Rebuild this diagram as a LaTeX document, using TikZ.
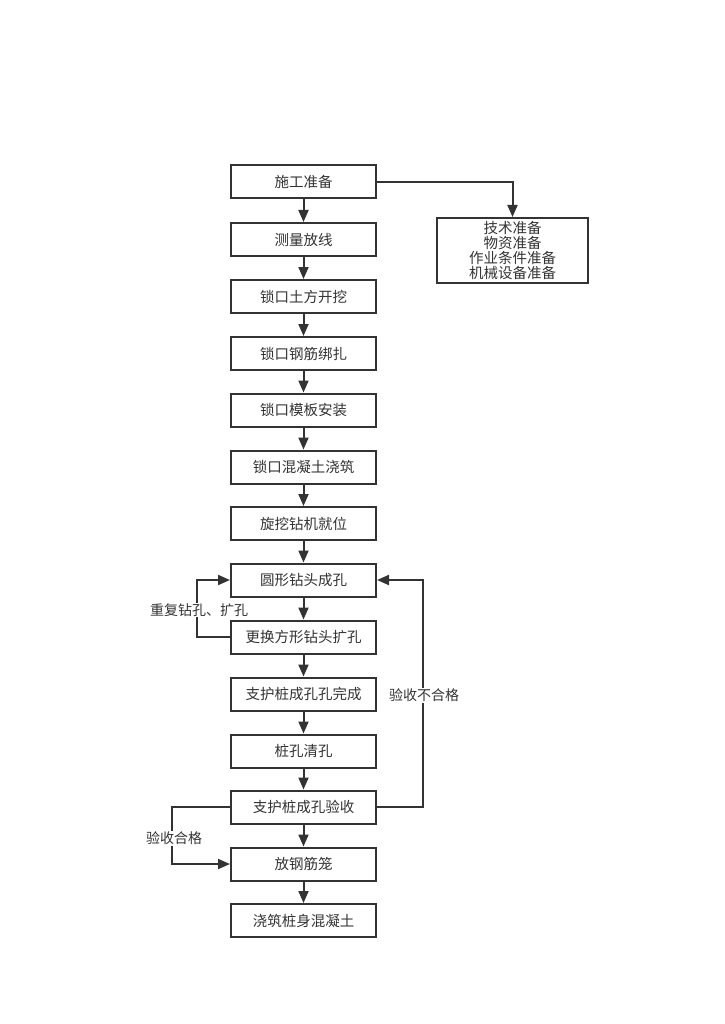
\documentclass[tikz,border=0pt]{standalone}
\usepackage{fontspec}
\setmainfont{Noto Sans CJK SC}
\usetikzlibrary{arrows.meta}
\definecolor{ink}{HTML}{333333}
\begin{document}
\begin{tikzpicture}[x=1pt,y=-1pt,
  stepbox/.style={draw=ink,line width=2pt,minimum width=145pt,minimum height=33pt,inner sep=0pt,text=ink,font=\fontsize{14.5}{15}\selectfont},
  conn/.style={draw=ink,line width=2pt,-{Triangle[length=12pt,width=10pt]}},
  lbl/.style={text=ink,font=\fontsize{14}{15}\selectfont,fill=white,inner sep=1pt}]
\useasboundingbox (0,0) rectangle (724,1024);
\def\cx{303.5}
\node[stepbox] (s1) at (\cx,182) {施工准备};
\node[stepbox] (s2) at (\cx,239.5) {测量放线};
\node[stepbox] (s3) at (\cx,296.5) {锁口土方开挖};
\node[stepbox] (s4) at (\cx,353.5) {锁口钢筋绑扎};
\node[stepbox] (s5) at (\cx,410) {锁口模板安装};
\node[stepbox] (s6) at (\cx,467) {锁口混凝土浇筑};
\node[stepbox] (s7) at (\cx,523.5) {旋挖钻机就位};
\node[stepbox] (s8) at (\cx,580) {圆形钻头成孔};
\node[stepbox] (s9) at (\cx,637) {更换方形钻头扩孔};
\node[stepbox] (s10) at (\cx,694) {支护桩成孔孔完成};
\node[stepbox] (s11) at (\cx,751) {桩孔清孔};
\node[stepbox] (s12) at (\cx,807) {支护桩成孔验收};
\node[stepbox] (s13) at (\cx,864) {放钢筋笼};
\node[stepbox] (s14) at (\cx,920.5) {浇筑桩身混凝土};
\node[stepbox,minimum width=151pt,minimum height=65pt,align=center,font=\fontsize{14.5}{15.2}\selectfont] (r) at (512.5,250.5) {技术准备\\物资准备\\作业条件准备\\机械设备准备};
\foreach \a/\b in {s1/s2,s2/s3,s3/s4,s4/s5,s5/s6,s6/s7,s7/s8,s8/s9,s9/s10,s10/s11,s11/s12,s12/s13,s13/s14}
  \draw[conn] (\a) -- (\b);
\draw[conn] (s1.east) -- (r.north |- s1.east) -- (r.north);
\coordinate (lA) at (197,637);
\draw[conn] (s9.west) -- (lA) |- (s8.west);
\node[lbl] (lbl1) at (199,610) {重复钻孔、扩孔};
\coordinate (rA) at (423,807);
\draw[conn] (s12.east) -- (rA) |- (s8.east);
\node[lbl] (lbl2) at (424,695) {验收不合格};
\coordinate (lB) at (172,807);
\draw[conn] (s12.west) -- (lB) |- (s13.west);
\node[lbl] (lbl3) at (174,838) {验收合格};
\end{tikzpicture}
\end{document}
